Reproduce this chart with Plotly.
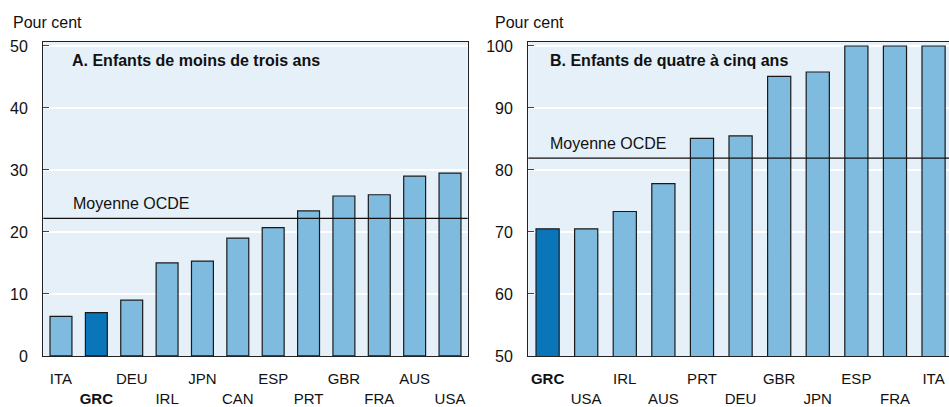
import plotly.graph_objects as go

# Panel A data
cats_a = ["ITA", "GRC", "DEU", "IRL", "JPN", "CAN", "ESP", "PRT", "GBR", "FRA", "AUS", "USA"]
vals_a = [6.4, 7.0, 9.0, 15.0, 15.3, 19.0, 20.7, 23.4, 25.8, 26.0, 29.0, 29.5]
mean_a = 22.2

# Panel B data
cats_b = ["GRC", "USA", "IRL", "AUS", "PRT", "DEU", "GBR", "JPN", "ESP", "FRA", "ITA"]
vals_b = [70.5, 70.5, 73.3, 77.8, 85.1, 85.5, 95.1, 95.8, 100.0, 100.0, 100.0]
mean_b = 81.9

ticks_a = [0, 10, 20, 30, 40, 50]
ticks_b = [50, 60, 70, 80, 90, 100]

title_a = "A. Enfants de moins de trois ans"
title_b = "B. Enfants de quatre à cinq ans"
unit = "Pour cent"
mean_label = "Moyenne OCDE"

LIGHT = "#7fbadf"
DARK = "#0a76b9"
BG = "#e5f0f8"
FONT = "Liberation Sans, Arial, sans-serif"
W, H = 949, 407


def colors(cats):
    return [DARK if c == "GRC" else LIGHT for c in cats]


def ticktext(cats):
    out = []
    for i, c in enumerate(cats):
        t = "<b>%s</b>" % c if c == "GRC" else c
        out.append(t if i % 2 == 0 else "<br>" + t)
    return out


fig = go.Figure()
fig.add_trace(go.Bar(x=cats_a, y=vals_a, marker=dict(color=colors(cats_a), line=dict(color="#1a1a1a", width=1.2)),
                     width=0.62, xaxis="x", yaxis="y", showlegend=False))
fig.add_trace(go.Bar(x=cats_b, y=vals_b, marker=dict(color=colors(cats_b), line=dict(color="#1a1a1a", width=1.2)),
                     width=0.6, xaxis="x2", yaxis="y2", showlegend=False))

ydom = [42.5 / H, (H - 39.3) / H]
xa = dict(type="category", showgrid=False, showline=True, linecolor="#222", linewidth=1.2, mirror=True,
          ticks="", tickfont=dict(size=15, color="#111"), fixedrange=True, ticklabelstandoff=9)
ya = dict(showgrid=True, gridcolor="white", gridwidth=1.2, zeroline=False, showline=True, linecolor="#222",
          linewidth=1.2, ticks="inside", ticklen=6, tickcolor="#444", tickfont=dict(size=16, color="#111"),
          ticklabelstandoff=11)

fig.update_layout(
    width=W, height=H, margin=dict(l=0, r=0, t=0, b=0),
    paper_bgcolor="white", plot_bgcolor=BG, font=dict(family=FONT, color="#111"),
    bargap=0.38,
    xaxis=dict(xa, domain=[43.3 / W, 467.7 / W], range=[-0.5, 11.5],
               tickvals=cats_a, ticktext=ticktext(cats_a)),
    yaxis=dict(ya, domain=ydom, range=[0, 50.65], tickvals=ticks_a, mirror=True),
    xaxis2=dict(xa, domain=[528.3 / W, 1.0], range=[-0.5, 10.4], anchor="y2",
                tickvals=cats_b, ticktext=ticktext(cats_b)),
    yaxis2=dict(ya, domain=ydom, range=[50, 100.65], tickvals=ticks_b, anchor="x2", mirror=False),
)

# mean lines
fig.add_shape(type="line", xref="x domain", yref="y", x0=0, x1=1, y0=mean_a, y1=mean_a,
              line=dict(color="#111", width=1.2))
fig.add_shape(type="line", xref="x2 domain", yref="y2", x0=0, x1=1, y0=mean_b, y1=mean_b,
              line=dict(color="#111", width=1.2))

ann = []
ann.append(dict(text=mean_label, xref="paper", yref="y", x=70.7 / W, y=mean_a, xanchor="left", yanchor="middle",
                yshift=15, showarrow=False, font=dict(size=16, color="#111")))
ann.append(dict(text=mean_label, xref="paper", yref="y2", x=548.3 / W, y=mean_b, xanchor="left", yanchor="middle",
                yshift=15, showarrow=False, font=dict(size=16, color="#111")))
ann.append(dict(text="<b>%s</b>" % title_a, xref="paper", yref="paper", x=70 / W, y=(H - 59) / H,
                xanchor="left", yanchor="middle", showarrow=False, font=dict(size=16, color="#111")))
ann.append(dict(text="<b>%s</b>" % title_b, xref="paper", yref="paper", x=548.3 / W, y=(H - 59) / H,
                xanchor="left", yanchor="middle", showarrow=False, font=dict(size=16, color="#111")))
ann.append(dict(text=unit, xref="paper", yref="paper", x=11 / W, y=(H - 19.5) / H,
                xanchor="left", yanchor="middle", showarrow=False, font=dict(size=16, color="#111")))
ann.append(dict(text=unit, xref="paper", yref="paper", x=492.7 / W, y=(H - 19.5) / H,
                xanchor="left", yanchor="middle", showarrow=False, font=dict(size=16, color="#111")))
fig.update_layout(annotations=ann)

fig.write_html("out.html", config={"displayModeBar": False, "staticPlot": True},
               post_script="document.body.style.margin='0';document.body.style.overflow='hidden';")
